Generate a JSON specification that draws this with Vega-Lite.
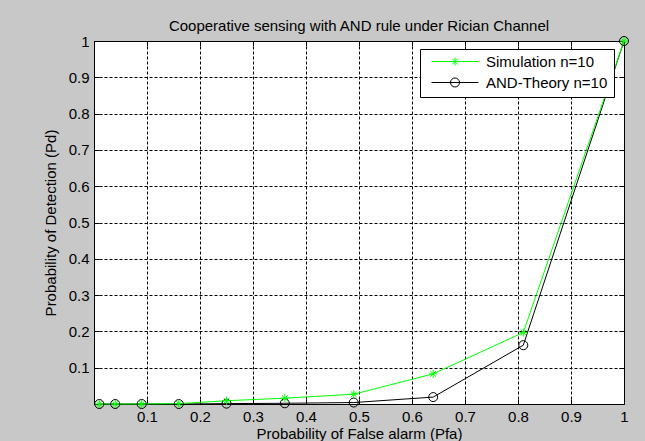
{
  "$schema": "https://vega.github.io/schema/vega-lite/v6.json",
  "width": 530,
  "height": 363,
  "autosize": {"type": "none"},
  "padding": {"left": 94, "top": 41, "right": 21, "bottom": 37},
  "background": "#c8c8c8",
  "title": {"text": "Cooperative sensing with AND rule under Rician Channel", "fontSize": 15, "font": "Liberation Sans", "fontWeight": "normal", "color": "#000000", "anchor": "middle", "frame": "group", "baseline": "alphabetic", "offset": -12},
  "data": {"values": [
    {"pfa": 0.01, "pd": 0.0, "series": "AND-Theory n=10"},
    {"pfa": 0.04, "pd": 0.0, "series": "AND-Theory n=10"},
    {"pfa": 0.09, "pd": 0.0, "series": "AND-Theory n=10"},
    {"pfa": 0.16, "pd": 0.0, "series": "AND-Theory n=10"},
    {"pfa": 0.25, "pd": 0.001, "series": "AND-Theory n=10"},
    {"pfa": 0.36, "pd": 0.002, "series": "AND-Theory n=10"},
    {"pfa": 0.49, "pd": 0.004, "series": "AND-Theory n=10"},
    {"pfa": 0.64, "pd": 0.019, "series": "AND-Theory n=10"},
    {"pfa": 0.81, "pd": 0.162, "series": "AND-Theory n=10"},
    {"pfa": 1.0, "pd": 1.0, "series": "AND-Theory n=10"},
    {"pfa": 0.01, "pd": 0.0, "series": "Simulation n=10"},
    {"pfa": 0.04, "pd": 0.0, "series": "Simulation n=10"},
    {"pfa": 0.09, "pd": 0.0, "series": "Simulation n=10"},
    {"pfa": 0.16, "pd": 0.001, "series": "Simulation n=10"},
    {"pfa": 0.25, "pd": 0.009, "series": "Simulation n=10"},
    {"pfa": 0.36, "pd": 0.016, "series": "Simulation n=10"},
    {"pfa": 0.49, "pd": 0.027, "series": "Simulation n=10"},
    {"pfa": 0.64, "pd": 0.083, "series": "Simulation n=10"},
    {"pfa": 0.81, "pd": 0.197, "series": "Simulation n=10"},
    {"pfa": 1.0, "pd": 1.0, "series": "Simulation n=10"}
  ]},
  "layer": [
    {
      "mark": {"type": "line", "strokeWidth": 1},
      "encoding": {
        "x": {"field": "pfa", "type": "quantitative", "scale": {"domain": [0, 1], "nice": false, "zero": false},
              "axis": {"title": "Probability of False alarm (Pfa)", "values": [0.1, 0.2, 0.3, 0.4, 0.5, 0.6, 0.7, 0.8, 0.9, 1], "format": ".1~f", "grid": true, "labelPadding": 10, "titlePadding": 2}},
        "y": {"field": "pd", "type": "quantitative", "scale": {"domain": [0, 1], "nice": false, "zero": false},
              "axis": {"title": "Probability of Detection (Pd)", "values": [0.1, 0.2, 0.3, 0.4, 0.5, 0.6, 0.7, 0.8, 0.9, 1], "format": ".1~f", "grid": true, "labelPadding": 10, "titlePadding": 10}},
        "color": {"field": "series", "type": "nominal",
                  "scale": {"domain": ["Simulation n=10", "AND-Theory n=10"], "range": ["#00ff00", "#000000"]},
                  "legend": {"title": null, "orient": "none", "legendX": 326, "legendY": 8, "fillColor": "white", "strokeColor": "#000000", "padding": 6, "clipHeight": 13, "rowPadding": 5, "labelOffset": 2, "symbolSize": 3249, "symbolStrokeWidth": 1, "symbolFillColor": "transparent", "labelFont": "Liberation Sans", "labelFontSize": 15, "labelColor": "#000000", "labelBaseline": "middle",
                    "encode": {"symbols": {"update": {"shape": {"signal": "datum.value == 'Simulation n=10' ? 'M-0.825,0H0.825M0,-0.14V0.14M-0.1,-0.1L0.1,0.1M-0.1,0.1L0.1,-0.1' : 'M-0.825,0H0.825M0.158,0A0.158,0.158 0 1,1 -0.158,0A0.158,0.158 0 1,1 0.158,0'"}, "fill": {"value": "transparent"}}}}}}
      }
    },
    {
      "transform": [{"filter": "datum.series == 'AND-Theory n=10'"}],
      "mark": {"type": "point", "shape": "circle", "size": 81, "filled": false, "stroke": "#000000", "strokeWidth": 1, "opacity": 1},
      "encoding": {
        "x": {"field": "pfa", "type": "quantitative", "axis": null},
        "y": {"field": "pd", "type": "quantitative", "axis": null}
      }
    },
    {
      "transform": [{"filter": "datum.series == 'Simulation n=10'"}],
      "mark": {"type": "point", "shape": "M-1,0H1M0,-1V1M-0.7,-0.7L0.7,0.7M-0.7,0.7L0.7,-0.7", "size": 64, "filled": false, "stroke": "#00ff00", "strokeWidth": 1, "opacity": 1},
      "encoding": {
        "x": {"field": "pfa", "type": "quantitative", "axis": null},
        "y": {"field": "pd", "type": "quantitative", "axis": null}
      }
    },
    {
      "mark": {"type": "point", "opacity": 0},
      "encoding": {
        "x": {"field": "pfa", "type": "quantitative", "axis": {"orient": "top", "labels": false, "title": null, "grid": false, "domain": false, "values": [0.1, 0.2, 0.3, 0.4, 0.5, 0.6, 0.7, 0.8, 0.9]}},
        "y": {"field": "pd", "type": "quantitative", "axis": {"orient": "right", "labels": false, "title": null, "grid": false, "domain": false, "values": [0.1, 0.2, 0.3, 0.4, 0.5, 0.6, 0.7, 0.8, 0.9]}}
      }
    }
  ],
  "resolve": {"axis": {"x": "independent", "y": "independent"}},
  "config": {
    "view": {"fill": "white", "stroke": "#000000", "strokeWidth": 1},
    "axis": {"labelFont": "Liberation Sans", "labelFontSize": 15, "labelColor": "#000000", "titleFont": "Liberation Sans", "titleFontSize": 15, "titleFontWeight": "normal", "titleColor": "#000000", "domainColor": "#000000", "tickColor": "#000000", "tickSize": -5, "gridColor": "#000000", "gridOpacity": 1, "gridDash": [3, 2], "gridWidth": 1, "labelFlush": false, "labelOverlap": false}
  }
}
